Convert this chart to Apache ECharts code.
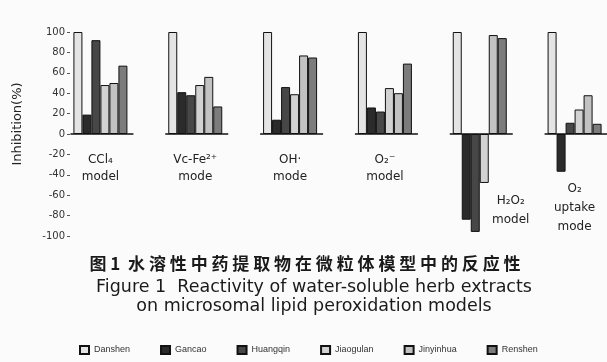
<!DOCTYPE html>
<html>
<head>
<meta charset="utf-8">
<script src="https://cdn.jsdelivr.net/npm/echarts@6/dist/echarts.min.js"></script>
<style>
  html, body { margin: 0; padding: 0; background: #fbfbfb; }
  #chart { width: 607px; height: 362px; }
</style>
</head>
<body>
<div id="chart"></div>
<script>
// Lipid peroxidation models (x categories)
const models = ['CCl₄\nmodel', 'Vc-Fe²⁺\nmode', 'OH·\nmode', 'O₂⁻\nmodel', 'H₂O₂\nmodel', 'O₂\nuptake\nmode'];

// Herb extracts (series names)
const herbs = ['Danshen', 'Gancao', 'Huangqin', 'Jiaogulan', 'Jinyinhua', 'Renshen'];

// Inhibition (%) per herb, one value per model
const danshen   = [100, 100, 100, 100, 100, 100];
const gancao    = [19, 41, 14, 26, -84, -37];
const huangqin  = [92, 38, 46, 22, -96, 11];
const jiaogulan = [48, 48, 39, 45, -48, 24];
const jinyinhua = [50, 56, 77, 40, 97, 38];
const renshen   = [67, 27, 75, 69, 94, 10];

// y-axis ticks
const yTicks = [-100, -80, -60, -40, -20, 0, 20, 40, 60, 80, 100];

// caption lines
const captionCn = ['图', '1', '', '水溶性中药提取物在微粒体模型中的反应性'];
const captionEn1 = 'Figure 1  Reactivity of water-soluble herb extracts';
const captionEn2 = 'on microsomal lipid peroxidation models';

const seriesValues = [danshen, gancao, huangqin, jiaogulan, jinyinhua, renshen];
const fills = ['#e4e4e4', '#2b2b2b', '#474747', '#d2d2d2', '#c2c2c2', '#7c7c7c'];

// spread CJK glyphs the way the printed caption is set
const spacedCn = captionCn.map(s => s.split('').join(' ')).join(' ');

const chart = echarts.init(document.getElementById('chart'), null, { renderer: 'canvas' });

const barSeries = herbs.map((name, i) => ({
  name: name,
  type: 'bar',
  data: seriesValues[i],
  barWidth: 9,
  barGap: '0%',
  itemStyle: { color: fills[i], borderColor: '#111', borderWidth: 1 }
}));

// short floor line under each group of bars
const floorSeries = {
  type: 'custom',
  silent: true,
  data: models.map((m, i) => [i, 0]),
  renderItem: function (params, api) {
    const p = api.coord([api.value(0), 0]);
    return {
      type: 'line',
      shape: { x1: p[0] - 30, y1: p[1], x2: p[0] + 33, y2: p[1] },
      style: { stroke: '#111', lineWidth: 1.5 }
    };
  },
  z: 5
};

const option = {
  backgroundColor: '#fbfbfb',
  animation: false,
  textStyle: { fontFamily: 'DejaVu Sans, sans-serif' },
  title: [
    {
      text: spacedCn,
      left: 300, top: 250, textAlign: 'center',
      textStyle: { fontFamily: 'Noto Sans CJK SC', fontSize: 17, fontWeight: 'bold', color: '#1a1a1a' }
    },
    {
      text: captionEn1,
      left: 309, top: 273, textAlign: 'center',
      textStyle: { fontFamily: 'DejaVu Sans', fontSize: 17.5, fontWeight: 'normal', color: '#1a1a1a' }
    },
    {
      text: captionEn2,
      left: 309, top: 292, textAlign: 'center',
      textStyle: { fontFamily: 'DejaVu Sans', fontSize: 17.5, fontWeight: 'normal', color: '#1a1a1a' }
    }
  ],
  legend: {
    data: herbs,
    top: 340, left: 74,
    itemWidth: 9, itemHeight: 8, itemGap: 30,
    textStyle: { fontFamily: 'Liberation Sans', fontSize: 9, color: '#333' },
    icon: 'rect'
  },
  grid: { left: 53, width: 569, top: 32, height: 204, outerBoundsMode: 'none', containLabel: false },
  xAxis: {
    type: 'category',
    data: models,
    offset: -102,
    axisLine: { show: false, onZero: false },
    axisTick: { show: false },
    axisLabel: {
      interval: 0,
      margin: 17,
      color: '#222',
      fontSize: 12,
      lineHeight: 17,
      formatter: function (val, idx) {
        const lines = val.split('\n');
        if (idx === 4) {
          return '{sp|}\n' + lines.map(l => '{sh|' + l + '}').join('\n');
        }
        if (idx === 5) {
          return '{sp2|}\n' + lines.map(l => '{tl|' + l + '}').join('\n');
        }
        return val;
      },
      rich: {
        sp: { height: 40, lineHeight: 40 },
        sp2: { height: 28, lineHeight: 28 },
        sh: { padding: [0, 0, 0, 62], fontSize: 12, lineHeight: 19, color: '#222' },
        tl: { fontSize: 12, lineHeight: 19, color: '#222' }
      }
    }
  },
  yAxis: {
    type: 'value',
    min: yTicks[0], max: yTicks[yTicks.length - 1], interval: 20,
    offset: -17,
    name: 'Inhibition(%)',
    nameLocation: 'middle',
    nameGap: 46,
    nameTextStyle: { fontSize: 13, color: '#222', padding: [0, 0, 0, 20] },
    axisLine: { show: false },
    axisTick: { show: true, length: 3, lineStyle: { color: '#555' } },
    splitLine: { show: false },
    axisLabel: { fontSize: 10, color: '#333', margin: 5 }
  },
  series: barSeries.concat([floorSeries])
};

chart.setOption(option);
</script>
</body>
</html>
